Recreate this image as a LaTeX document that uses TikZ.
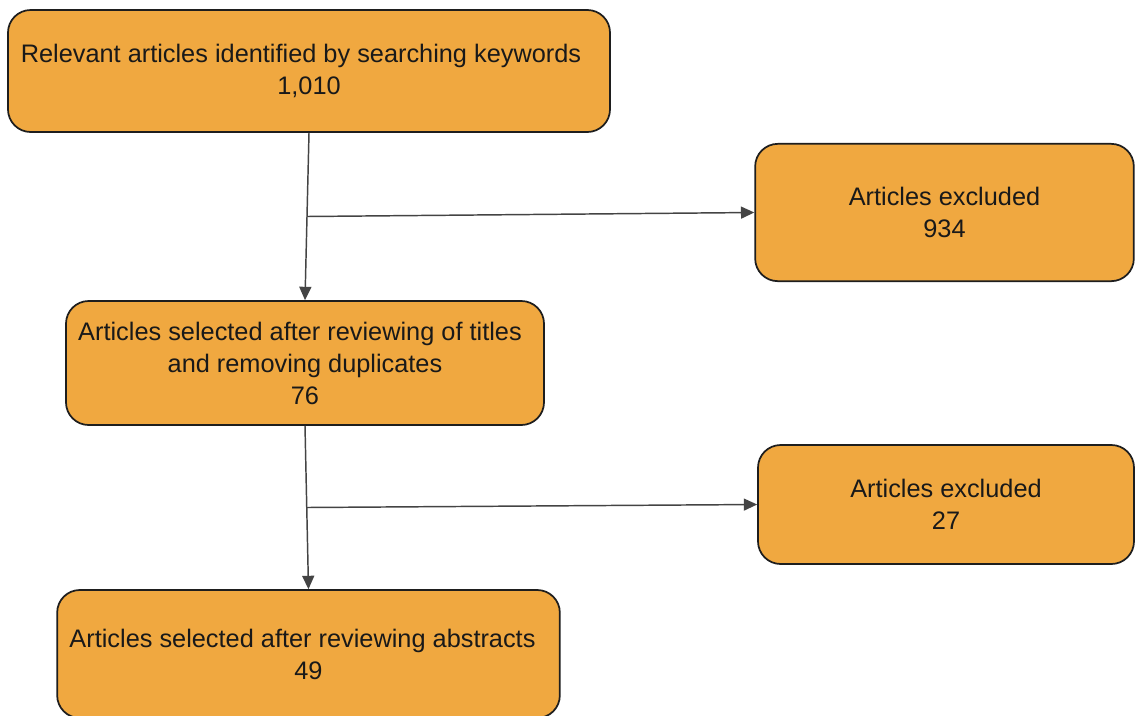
\documentclass[tikz,border=0pt]{standalone}
\usepackage{fontspec}
\setmainfont{Liberation Sans}
\usetikzlibrary{arrows.meta,calc}
\definecolor{boxfill}{HTML}{F0A840}
\definecolor{edge}{HTML}{1E1E1E}
\definecolor{conn}{HTML}{444444}
\tikzset{
  box/.style={draw=edge, line width=1.3pt, fill=boxfill, rounded corners=17pt,
    align=center, inner sep=0pt, text=black!90,
    font=\fontsize{19}{24}\selectfont},
  arr/.style={draw=conn, line width=1.1pt,
    -{Triangle[length=10pt,width=9pt]}},
}
\begin{document}
\begin{tikzpicture}[x=0.75pt,y=-0.75pt]
\useasboundingbox[fill=white] (0,0) rectangle (1135,715);
\node[box, minimum width=451.5pt, minimum height=91.5pt] (b1) at (309,71)
  {Relevant articles identified by searching keywords\hspace*{12pt}\\1,010};
\node[box, minimum width=284pt, minimum height=103pt] (b2) at (944.5,212.5)
  {Articles excluded\\934};
\node[box, minimum width=358.5pt, minimum height=93pt] (b3) at (305,363)
  {Articles selected after reviewing of titles\hspace*{7.5pt}\\and removing duplicates\hspace*{10.5pt}\\76};
\node[box, minimum width=282pt, minimum height=89.25pt] (b4) at (946,504.5)
  {Articles excluded\\27};
\node[box, minimum width=377pt, minimum height=96pt] (b5) at (308.5,654)
  {Articles selected after reviewing abstracts\hspace*{9pt}\\49};
\coordinate (j1) at ($(b1.south)!0.5!(b3.north)$);
\coordinate (j2) at ($(b3.south)!0.5!(b5.north)$);
\draw[arr] (b1.south) -- (b3.north);
\draw[arr] (j1) -- (b2.west);
\draw[arr] (b3.south) -- (b5.north);
\draw[arr] (j2) -- (b4.west);
\end{tikzpicture}
\end{document}
